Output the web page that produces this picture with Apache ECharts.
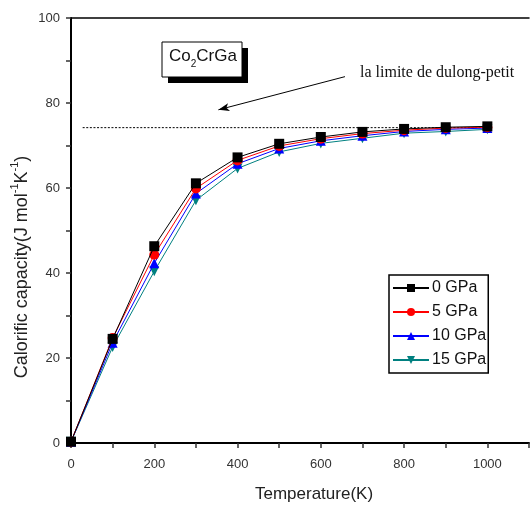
<!DOCTYPE html>
<html><head><meta charset="utf-8">
<script src="https://cdn.jsdelivr.net/npm/echarts@6/dist/echarts.min.js"></script>
<style>html,body{margin:0;padding:0;background:#fff}#c{width:532px;height:506px}</style>
</head><body><div id="c"></div>
<script>
var temps = [0,100,200,300,400,500,600,700,800,900,1000];
var cv0 = [0.3,24.5,46.3,61.1,67.2,70.4,72.0,73.2,73.9,74.3,74.5];
var cv5 = [0.3,24.7,44.3,59.9,66.5,69.9,71.6,72.8,73.6,74.1,74.3];
var cv10 = [0.3,23.6,42.3,58.7,65.7,69.3,71.1,72.3,73.3,73.8,74.1];
var cv15 = [0.3,22.6,40.4,57.1,64.6,68.5,70.5,71.7,72.9,73.3,73.8];
var seriesNames = ['0 GPa','5 GPa','10 GPa','15 GPa'];
var limitX = [28,1000];
var limitY = 74.2;
var arrowFrom = [658,86.2];
var arrowTo = [354,78.4];
var xTickLabels = [0,200,400,600,800,1000];
var yTickLabels = [0,20,40,60,80,100];

function pair(ys){ return temps.map(function(t,i){ return [t, ys[i]]; }); }
var colors = ['#000000','#ff0000','#0000ff','#008080'];
var symbols = ['rect','circle','triangle','path://M0,0 L10,0 L5,10 Z'];
var allData = [cv0,cv5,cv10,cv15];

var series = allData.map(function(d,i){
  return {
    name: seriesNames[i], type:'line', data: pair(d),
    symbol: symbols[i], symbolSize: 10,
    lineStyle:{color:colors[i], width:1},
    itemStyle:{color:colors[i]},
    z: 10 - i
  };
});
series.push({
  name:'limit', type:'line', data: limitX.map(function(x){return [x, limitY];}),
  symbol:'none', lineStyle:{color:'#000', width:1, type:[2,1.6]}, silent:true,
  markLine:{
    silent:true, symbol:['none','arrow'], symbolSize:[6,11],
    label:{show:false},
    lineStyle:{color:'#000', width:1, type:'solid'},
    data:[[{coord:arrowFrom},{coord:arrowTo}]]
  }
});

var chart = echarts.init(document.getElementById('c'));
chart.setOption({
  animation:false,
  grid:{left:71, top:18, right:-2, bottom:63},
  xAxis:[{
    type:'value', min:0, max:1100, interval:100,
    axisLine:{show:true, lineStyle:{color:'#000', width:2}},
    axisTick:{show:true, inside:false, length:5, lineStyle:{color:'#333', width:1.5}},
    splitLine:{show:false},
    axisLabel:{color:'#333', fontSize:13, fontFamily:'Liberation Sans', margin:15,
      formatter:function(v){ return xTickLabels.indexOf(v)>=0 ? String(v) : ''; }}
  },{
    type:'value', position:'top', min:0, max:1100,
    axisLine:{show:true, lineStyle:{color:'#000', width:1.5}},
    axisTick:{show:false}, axisLabel:{show:false}, splitLine:{show:false}
  }],
  yAxis:{
    type:'value', min:0, max:100, interval:10,
    axisLine:{show:true, lineStyle:{color:'#000', width:2}},
    axisTick:{show:true, length:5, lineStyle:{color:'#333', width:1.5}},
    splitLine:{show:false},
    axisLabel:{color:'#333', fontSize:13, fontFamily:'Liberation Sans', margin:11,
      formatter:function(v){ return yTickLabels.indexOf(v)>=0 ? String(v) : ''; }}
  },
  legend:{
    data:seriesNames, orient:'vertical', left:389, top:275,
    backgroundColor:'#fff', borderColor:'#000', borderWidth:1.5, borderRadius:0,
    padding:[5,2,5,3], itemGap:8, itemWidth:36, itemHeight:10,
    textStyle:{color:'#111', fontSize:16, fontFamily:'Liberation Sans', padding:[0,0,0,-2]}
  },
  graphic:[
    {type:'rect', shape:{x:168,y:48,width:80,height:35}, style:{fill:'#000'}},
    {type:'rect', shape:{x:162,y:42,width:80,height:35}, style:{fill:'#fff', stroke:'#000', lineWidth:1}},
    {type:'text', x:169, y:48, style:{
      text:'{a|Co}{s|2}{a|CrGa}', rich:{
        a:{fontSize:17, lineHeight:21, fontFamily:'Liberation Sans', fill:'#111', verticalAlign:'top'},
        s:{fontSize:10, lineHeight:10, fontFamily:'Liberation Sans', fill:'#111', verticalAlign:'bottom'}
      }}},
    {type:'text', x:360, y:65, style:{
      text:'la limite de dulong-petit', font:'16px "Liberation Serif"', fill:'#111'}},
    {type:'text', x:314, y:494, style:{
      text:'Temperature(K)', font:'17px "Liberation Sans"', fill:'#222', align:'center', verticalAlign:'middle'}},
    {type:'text', x:20, y:267, rotation:Math.PI/2, style:{
      text:'{a|Calorific capacity(J mol}{s|-1}{a|K}{s|-1}{a|)}', align:'center', verticalAlign:'middle',
      rich:{
        a:{fontSize:18, lineHeight:22, fontFamily:'Liberation Sans', fill:'#222', verticalAlign:'bottom'},
        s:{fontSize:11, lineHeight:11, fontFamily:'Liberation Sans', fill:'#222', verticalAlign:'top'}
      }}}
  ],
  series: series
});
</script></body></html>
